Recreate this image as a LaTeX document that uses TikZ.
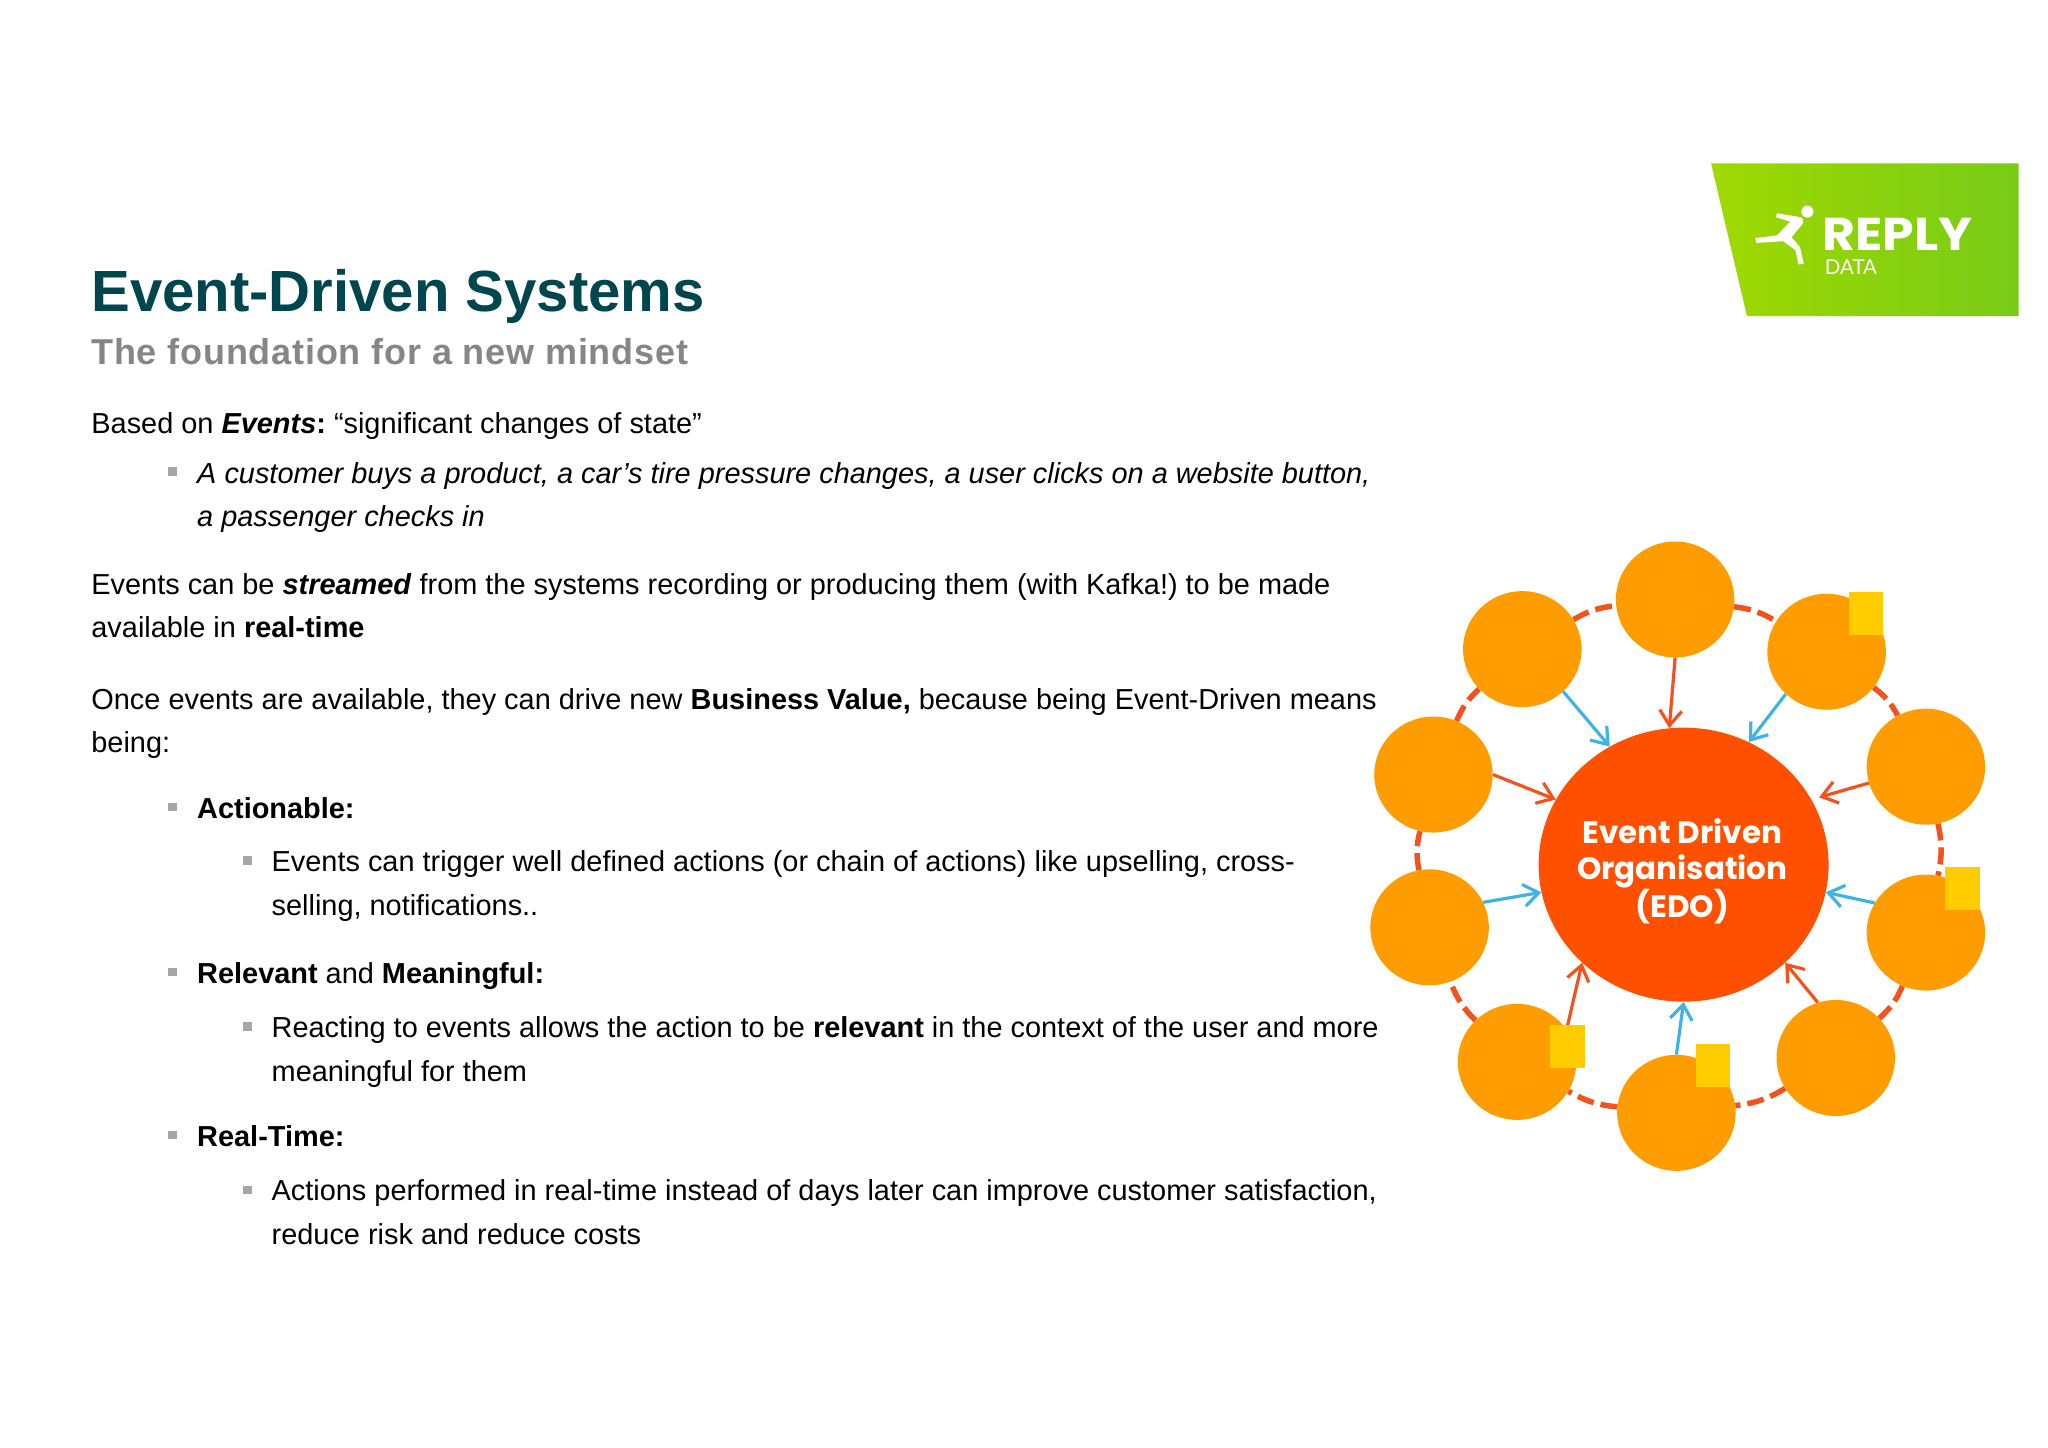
\documentclass[tikz,border=0pt]{standalone}
\usepackage{fontspec}
\setmainfont{Liberation Sans}
\newfontfamily\poppinsf{Poppins}[UprightFont=* Bold]
\newfontfamily\poppinsr{Poppins}[UprightFont=* Bold,FakeStretch=1.1]
\newfontfamily\latof{Lato}
\usetikzlibrary{shapes.geometric,arrows.meta}
\definecolor{titleteal}{HTML}{00464F}
\definecolor{subgrey}{HTML}{868686}
\definecolor{bulgrey}{HTML}{A6A6A6}
\definecolor{discor}{HTML}{FF9C00}
\definecolor{edored}{HTML}{FF5000}
\definecolor{sqy}{HTML}{FFCC00}
\definecolor{redline}{HTML}{F2521E}
\definecolor{blueline}{HTML}{3DB4E4}
\definecolor{logoleft}{HTML}{A0D900}
\definecolor{logoright}{HTML}{78CB18}
\tikzset{
  txt/.style={anchor=base west,inner sep=0pt,outer sep=0pt,font=\frenchspacing\fontsize{28.9}{30}\selectfont,text=black},
  bul/.style={rectangle,fill=bulgrey,inner sep=0pt,minimum size=8.5pt},
  disc/.style={ellipse,fill=discor,inner sep=0pt,minimum width=118.5pt,minimum height=116pt},
  sqr/.style={rectangle,fill=sqy,inner sep=0pt,minimum width=34.5pt,minimum height=43pt},
  ring/.style={redline,line width=5.5pt,dash pattern=on 17pt off 7pt},
  redarr/.style={redline,line width=3.2pt,-{Straight Barb[length=15pt,width=22pt,line width=3.2pt]}},
  bluearr/.style={blueline,line width=3.2pt,-{Straight Barb[length=15pt,width=22pt,line width=3.2pt]}},
}
\begin{document}
\begin{tikzpicture}[x=1.3061pt,y=-1.3061pt]
\useasboundingbox[fill=white] (0,0) rectangle (1568,1108);
% logo
\shade[left color=logoleft,right color=logoright]
  (1310,125) -- (1545.5,125) -- (1545.5,242) -- (1337.5,242) -- cycle;
\begin{scope}[shift={(1301.6,114.8)},x=0.3333pt,y=-0.3333pt]
 \filldraw[white,line width=1.2pt,line join=round] (232,192) -- (298,203) .. controls (308,205) and (310,214) .. (305,222) -- (272,262) -- (298,292) -- (309,340) -- (297,342) -- (288,300) -- (250,272) -- (170,277) -- (168,266) -- (232,258) -- (274,214) -- (230,201) -- cycle;
 \fill[white] (322,185) circle [radius=6pt];
\end{scope}
\node[inner sep=0pt,anchor=base west,text=white,text depth=0pt,text height=33pt,font=\poppinsr\fontsize{46}{46}\selectfont] (replylogo) at (1395,192) {REPLY};
\node[inner sep=0pt,anchor=base west,text=white,text depth=0pt,text height=14pt,font=\latof\fontsize{20.5}{21}\selectfont] (datalogo) at (1397,210.5) {DATA};
% title
\node[txt,font=\bfseries\fontsize{58.1}{60}\selectfont,text=titleteal] (title) at (70,238.5) {Event-Driven Systems};
\node[txt,font=\bfseries\fontsize{36}{38}\selectfont\addfontfeature{LetterSpace=2.2},text=subgrey] (subtitle) at (70,279) {The foundation for a new mindset};
% body
\node[txt] (l1) at (70,332) {Based on \textbf{\textit{Events}}\textbf{:} “significant changes of state”};
\node[bul] (b1) at (132,361) {};
\node[txt] (l2) at (151,370) {\textit{A customer buys a product, a car’s tire pressure changes, a user clicks on a website button,}};
\node[txt] (l3) at (151,403) {\textit{a passenger checks in}};
\node[txt] (l4) at (70,455) {Events can be \textbf{\textit{streamed}} from the systems recording or producing them (with Kafka!) to be made};
\node[txt] (l5) at (70,488) {available in \textbf{real-time}};
\node[txt] (l6) at (70,543) {Once events are available, they can drive new \textbf{Business Value,} because being Event-Driven means};
\node[txt] (l7) at (70,576) {being:};
\node[bul] (b2) at (132,618) {};
\node[txt] (l8) at (151,627) {\textbf{Actionable:}};
\node[bul] (b3) at (189.5,659) {};
\node[txt] (l9) at (208,667) {Events can trigger well defined actions (or chain of actions) like upselling, cross-};
\node[txt] (l10) at (208,701) {selling, notifications..};
\node[bul] (b4) at (132,744) {};
\node[txt] (l11) at (151,753) {\textbf{Relevant} and \textbf{Meaningful:}};
\node[bul] (b5) at (189.5,786) {};
\node[txt] (l12) at (208,794) {Reacting to events allows the action to be \textbf{relevant} in the context of the user and more};
\node[txt] (l13) at (208,828) {meaningful for them};
\node[bul] (b6) at (132,869) {};
\node[txt] (l14) at (151,878) {\textbf{Real-Time:}};
\node[bul] (b7) at (189.5,911) {};
\node[txt] (l15) at (208,919) {Actions performed in real-time instead of days later can improve customer satisfaction,};
\node[txt] (l16) at (208,953) {reduce risk and reduce costs};
% diagram
\node[ellipse,fill=edored,inner sep=0pt,minimum width=290pt,minimum height=274pt] (edo) at (1289,662) {};
\node[inner sep=0pt,text=white,align=center,font=\poppinsf\fontsize{31}{36.5}\selectfont] (edotext) at (1288,667) {Event Driven\\Organisation\\(EDO)};
\node[disc] (dT) at (1282.5,459) {};
\node[disc] (dUR) at (1398.5,499) {};
\node[disc] (dR) at (1474.5,587) {};
\node[disc] (dRL) at (1474.5,714) {};
\node[disc] (dLR) at (1405.5,810) {};
\node[disc] (dB) at (1283.5,852) {};
\node[disc] (dLL) at (1161.5,813) {};
\node[disc] (dLf) at (1094.5,710) {};
\node[disc] (dL) at (1097.5,593) {};
\node[disc] (dUL) at (1165.5,497) {};
\foreach \a/\b in {dT/dUR,dUR/dR,dR/dRL,dRL/dLR,dLR/dB,dB/dLL,dLL/dLf,dLf/dL,dL/dUL,dUL/dT}
  \draw[ring] (\a) to[bend left=12] (\b);
\draw[redarr] (dT.-90) -- (edo.96);
\draw[bluearr] (dUR.226) -- (edo.62.6);
\draw[redarr,shorten >=8pt] (dR.196) -- (edo.27.3);
\draw[bluearr] (dRL.150.5) -- (edo.-11);
\draw[redarr] (dLR.108) -- (edo.-44);
\draw[bluearr] (dB.90) -- (edo.-90);
\draw[redarr] (dLL.33) -- (edo.-136);
\draw[bluearr] (dLf.25.5) -- (edo.-169.6);
\draw[redarr] (dL.0) -- (edo.153);
\draw[bluearr] (dUL.-46) -- (edo.122.2);
\node[sqr] (s1) at (1428.5,469.5) {};
\node[sqr] (s2) at (1502.5,680.5) {};
\node[sqr] (s3) at (1311.5,815.5) {};
\node[sqr] (s4) at (1200,801.5) {};
\end{tikzpicture}
\end{document}
